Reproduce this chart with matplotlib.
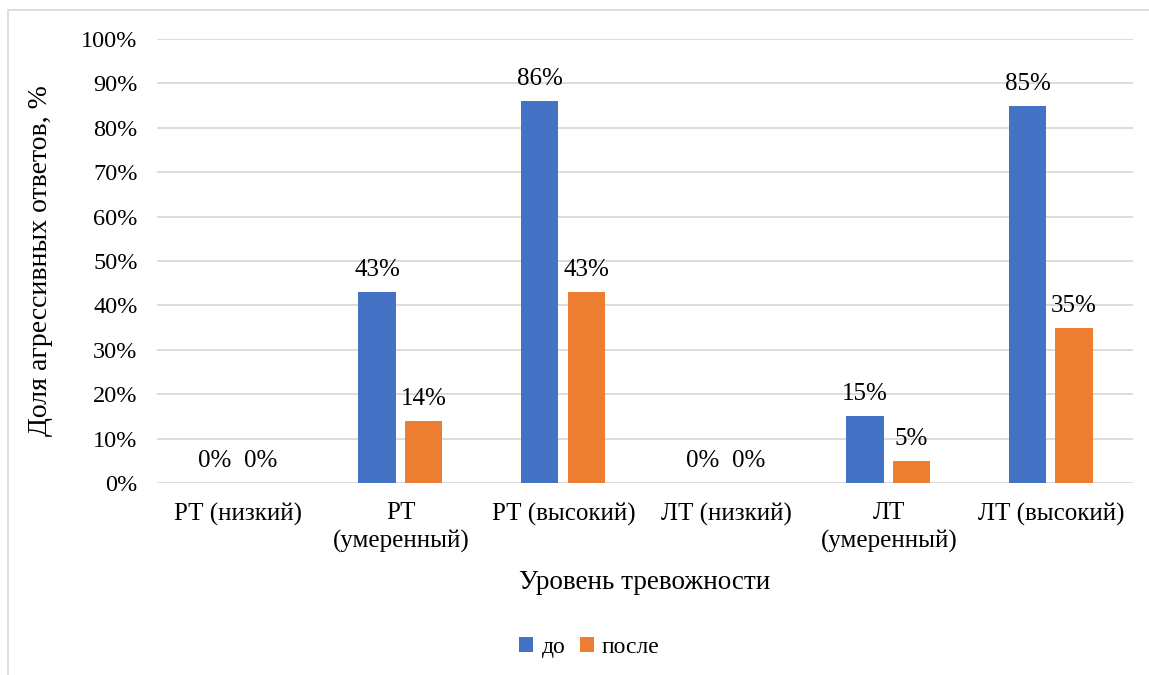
import numpy as np
import matplotlib.pyplot as plt
from matplotlib.patches import Rectangle

plt.rcParams['font.family'] = ['Liberation Serif', 'DejaVu Serif']

categories = ["РТ (низкий)", "РТ\n(умеренный)", "РТ (высокий)",
              "ЛТ (низкий)", "ЛТ\n(умеренный)", "ЛТ (высокий)"]
before = [0, 43, 86, 0, 15, 85]
after = [0, 14, 43, 0, 5, 35]

fig = plt.figure(figsize=(11.49, 6.75), dpi=100)
ax = fig.add_axes([0.1366, 0.2844, 0.8494, 0.6578])

# chart frame
fig.patches.append(Rectangle((8 / 1149, -0.1), 1.2, 1 - 10 / 675 + 0.1,
                             transform=fig.transFigure, fill=False,
                             edgecolor="#d9d9d9", linewidth=1.2))

x = np.arange(len(categories))
w = 0.228
b1 = ax.bar(x - 0.147, before, w, color="#4472C4", label="до", zorder=3)
b2 = ax.bar(x + 0.138, after, w, color="#ED7D31", label="после", zorder=3)

for bars, vals in ((b1, before), (b2, after)):
    for rect, v in zip(bars, vals):
        ax.annotate(f"{v}%", (rect.get_x() + rect.get_width() / 2, v),
                    xytext=(0, 8), textcoords="offset points",
                    ha="center", va="bottom", fontsize=18)

ax.set_xlim(-0.5, len(categories) - 0.5)
ax.set_ylim(0, 100)
ax.set_yticks(np.arange(0, 101, 10))
ax.set_yticklabels([f"{t}%" for t in range(0, 101, 10)], fontsize=17.5)
ax.set_xticks(x)
ax.set_xticklabels(categories, fontsize=18, linespacing=1.3)
ax.tick_params(length=0, pad=14)
ax.tick_params(axis="x", pad=14)

ax.yaxis.grid(True, color="#d9d9d9", linewidth=1.3, zorder=0)
for s in ax.spines.values():
    s.set_visible(False)

ax.set_xlabel("Уровень тревожности", fontsize=19.5, labelpad=12)
ax.set_ylabel("Доля агрессивных ответов, %", fontsize=20, labelpad=20)

fig.legend(handles=[b1, b2], loc="center", bbox_to_anchor=(0.513, 0.041),
           ncol=2, frameon=False, fontsize=17, handlelength=0.6,
           handleheight=0.6, handletextpad=0.35, columnspacing=0.6)

fig.savefig("out.png", dpi=100)
